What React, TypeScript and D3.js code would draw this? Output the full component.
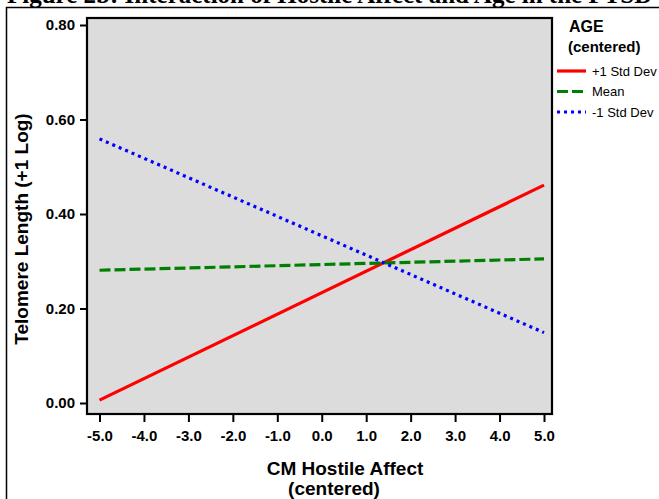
import { useRef, useEffect } from 'react';
import * as d3 from 'd3';

// values
const xTicks = [-5, -4, -3, -2, -1, 0, 1, 2, 3, 4, 5];
const yTicks = [0, 0.2, 0.4, 0.6, 0.8];
const affectEnds = [-5, 5];
const ageGroups = ['+1 Std Dev', 'Mean', '-1 Std Dev'];
const plusOneSd = [0.006, 0.461];
const meanAge = [0.281, 0.305];
const minusOneSd = [0.559, 0.149];

export default function App() {
  const svgRef = useRef(null);

  useEffect(() => {
    const svg = d3.select(svgRef.current);
    svg.selectAll('*').remove();

    const font = 'Arial, "Liberation Sans", sans-serif';

    // document heading, mostly cut off by the crop
    svg
      .append('text')
      .attr('x', 7)
      .attr('y', 3)
      .style('font-family', '"Liberation Serif", "Times New Roman", serif')
      .style('font-weight', 'bold')
      .style('font-size', '25px')
      .text('Figure 2b: Interaction of Hostile Affect and Age in the PTSD');

    // table cell border
    svg
      .append('path')
      .attr('d', 'M6.5,499 L6.5,7.5 L659,7.5')
      .attr('fill', 'none')
      .attr('stroke', '#000')
      .attr('stroke-width', 1.5);

    // scales
    const xScale = d3.scaleLinear().domain([-5, 5]).range([99.5, 544]);
    const yScale = d3.scaleLinear().domain([0, 0.8]).range([403, 25]);

    const left = 87;
    const right = 552;
    const top = 18;
    const bottom = 414;

    svg
      .append('rect')
      .attr('x', left)
      .attr('y', top)
      .attr('width', right - left)
      .attr('height', bottom - top)
      .attr('fill', '#dcdcdc')
      .attr('stroke', '#000')
      .attr('stroke-width', 2.2);

    // hyphen instead of d3's unicode minus, like the original
    const fmt = (spec) => (d) => d3.format(spec)(d).replace('\u2212', '-');

    // y axis
    const yAxis = d3
      .axisLeft(yScale)
      .tickValues(yTicks)
      .tickSize(7)
      .tickPadding(5)
      .tickFormat(fmt('.2f'));
    const gy = svg.append('g').attr('transform', `translate(${left},0)`).call(yAxis);
    gy.select('.domain').remove();
    gy.selectAll('line').attr('stroke', '#000').attr('stroke-width', 2);
    gy.selectAll('text')
      .attr('fill', '#000')
      .style('font-family', font)
      .style('font-weight', 'bold')
      .style('font-size', '15px');

    // x axis
    const xAxis = d3
      .axisBottom(xScale)
      .tickValues(xTicks)
      .tickSize(8)
      .tickFormat(fmt('.1f'));
    const gx = svg.append('g').attr('transform', `translate(0,${bottom})`).call(xAxis);
    gx.select('.domain').remove();
    gx.selectAll('line').attr('stroke', '#000').attr('stroke-width', 2);
    gx.selectAll('text')
      .attr('fill', '#000')
      .attr('dy', null)
      .attr('y', 27)
      .style('font-family', font)
      .style('font-weight', 'bold')
      .style('font-size', '15px');

    // axis titles
    svg
      .append('text')
      .attr('transform', 'translate(28,229) rotate(-90)')
      .attr('text-anchor', 'middle')
      .style('font-family', font)
      .style('font-weight', 'bold')
      .style('font-size', '19px')
      .text('Telomere Length (+1 Log)');

    const xTitle = svg
      .append('text')
      .attr('text-anchor', 'middle')
      .style('font-family', font)
      .style('font-weight', 'bold')
      .style('font-size', '19px');
    xTitle.append('tspan').attr('x', 345).attr('y', 475).text('CM Hostile Affect');
    xTitle.append('tspan').attr('x', 334).attr('y', 495).text('(centered)');

    // series
    const series = [
      { name: ageGroups[0], values: plusOneSd, color: '#ff0000', dash: null },
      { name: ageGroups[1], values: meanAge, color: '#008000', dash: '11,4' },
      { name: ageGroups[2], values: minusOneSd, color: '#0000ff', dash: '3,4' },
    ];

    const line = d3
      .line()
      .x((d) => xScale(d[0]))
      .y((d) => yScale(d[1]));

    series.forEach((s) => {
      svg
        .append('path')
        .attr('d', line(affectEnds.map((x, i) => [x, s.values[i]])))
        .attr('fill', 'none')
        .attr('stroke', s.color)
        .attr('stroke-width', 3.2)
        .attr('stroke-dasharray', s.dash);
    });

    // legend
    const legend = svg.append('g').attr('transform', 'translate(557,0)');
    legend
      .append('text')
      .attr('x', 12)
      .attr('y', 32)
      .style('font-family', font)
      .style('font-weight', 'bold')
      .style('font-size', '16px')
      .text('AGE');
    legend
      .append('text')
      .attr('x', 11)
      .attr('y', 52)
      .style('font-family', font)
      .style('font-weight', 'bold')
      .style('font-size', '15px')
      .text('(centered)');

    series.forEach((s, i) => {
      const y = 71 + i * 20.5;
      legend
        .append('line')
        .attr('x1', 0)
        .attr('x2', 29)
        .attr('y1', y)
        .attr('y2', y)
        .attr('stroke', s.color)
        .attr('stroke-width', 3.2)
        .attr('stroke-dasharray', s.dash);
      legend
        .append('text')
        .attr('x', 35)
        .attr('y', y + 4.5)
        .style('font-family', font)
        .style('font-size', '13px')
        .text(s.name);
    });
  }, []);

  return (
    <svg
      ref={svgRef}
      width={659}
      height={499}
      style={{ position: 'absolute', left: 0, top: 0, background: '#fff' }}
    ></svg>
  );
}
